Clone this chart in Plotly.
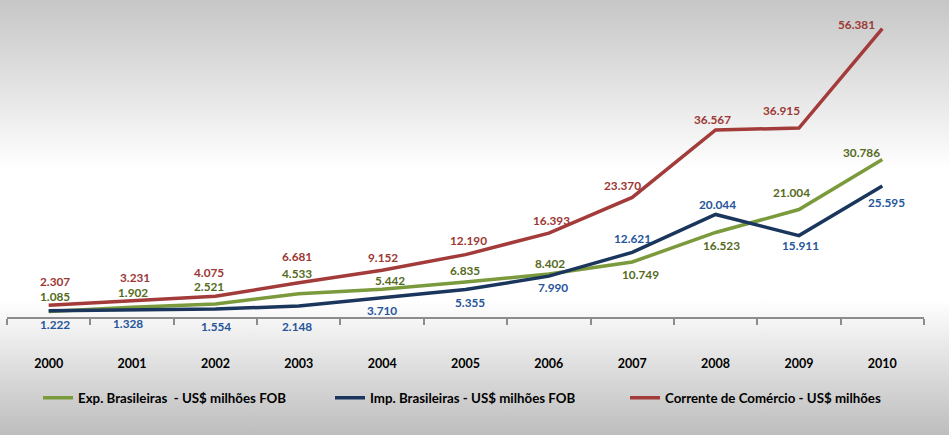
import base64
import plotly.graph_objects as go

years = ["2000", "2001", "2002", "2003", "2004", "2005", "2006", "2007", "2008", "2009", "2010"]
exp_vals = [1085, 1902, 2521, 4533, 5442, 6835, 8402, 10749, 16523, 21004, 30786]
imp_vals = [1222, 1328, 1554, 2148, 3710, 5355, 7990, 12621, 20044, 15911, 25595]
corr_vals = [2307, 3231, 4075, 6681, 9152, 12190, 16393, 23370, 36567, 36915, 56381]

exp_name = "Exp. Brasileiras \u00a0- US$ milhões FOB"
imp_name = "Imp. Brasileiras - US$ milhões FOB"
corr_name = "Corrente de Comércio - US$ milhões"

# label offsets (pixels, dx, dy down-positive)
corr_off = [(6, -24), (3, -23), (-6, -24), (-2, -26), (1, -13), (3, -14), (3, -13), (-10, -12), (-3, -10), (-17, -18), (-26, -4)]
exp_off = [(6, -15), (1, -15), (-6, -18), (-2, -20), (8, -9), (-1, -12), (1, -11), (8, 12), (6, 13), (-7, -17), (-21, -7)]
imp_off = [(6, 14), (-4, 13), (1, 17), (-2, 20), (0, 12), (4, 13), (4, 11), (0, -14), (2, -10), (2, 10), (4, 16)]

FONT = "Lato, 'Open Sans', Arial, sans-serif"
C_RED, C_RED_T = "#a23b3a", "#9c3834"
C_GRN, C_GRN_T = "#7a9a3c", "#556a1c"
C_BLU, C_BLU_T = "#1b365d", "#25559a"

W, H = 949, 435
ML, MR, MT, MB = 7, 25, 10, 118
PW, PH = W - ML - MR, H - MT - MB

def px_x(p):
    return (p - ML) / PW

def px_y(p):
    return (MT + PH - p) / PH

fig = go.Figure()
series = [(exp_name, exp_vals, C_GRN, "legend", 38),
          (imp_name, imp_vals, C_BLU, "legend2", 330),
          (corr_name, corr_vals, C_RED, "legend3", 625)]
legend_cfg = {}
for name, vals, col, lg, lx in series:
    fig.add_trace(go.Scatter(x=years, y=vals, mode="lines", name=name, legend=lg,
                             line=dict(color=col, width=3.5), hoverinfo="skip"))
    legend_cfg[lg] = dict(orientation="h", x=px_x(lx), xanchor="left", y=px_y(398), yanchor="middle",
                          bgcolor="rgba(0,0,0,0)", itemwidth=30,
                          font=dict(family=FONT, size=13.3, color="black", weight="bold"))

def fmt(v):
    return f"{v:,}".replace(",", ".")

ann = []
for vals, offs, col in [(corr_vals, corr_off, C_RED_T), (exp_vals, exp_off, C_GRN_T), (imp_vals, imp_off, C_BLU_T)]:
    for i, (v, (dx, dy)) in enumerate(zip(vals, offs)):
        ann.append(dict(x=i, y=v, xref="x", yref="y", text=fmt(v), showarrow=False, xshift=dx, yshift=-dy,
                        font=dict(family=FONT, size=11.8, color=col, weight="bold")))

svg = f'''<svg xmlns="http://www.w3.org/2000/svg" width="{W}" height="{H}" preserveAspectRatio="none">
<defs><linearGradient id="g" x1="0" y1="0" x2="0" y2="1">
<stop offset="0" stop-color="#c6c6c6"/>
<stop offset="{170/H:.3f}" stop-color="#ffffff"/>
<stop offset="{300/H:.3f}" stop-color="#ffffff"/>
<stop offset="1" stop-color="#bdbdbd"/>
</linearGradient></defs>
<rect x="0" y="0" width="{W}" height="{H}" fill="url(#g)"/></svg>'''
src = "data:image/svg+xml;base64," + base64.b64encode(svg.encode()).decode()

fig.update_layout(
    width=W, height=H,
    margin=dict(l=ML, r=MR, t=MT, b=MB, autoexpand=False),
    paper_bgcolor="white", plot_bgcolor="rgba(0,0,0,0)",
    font=dict(family=FONT, color="black"),
    showlegend=True,
    annotations=ann,
    images=[dict(source=src, xref="paper", yref="paper", x=-ML / PW, y=1 + MT / PH,
                 sizex=W / PW, sizey=H / PH, sizing="stretch", xanchor="left", yanchor="top", layer="below")],
    **legend_cfg,
)
fig.update_xaxes(type="category", range=[-0.5, 10.5], showgrid=False, zeroline=False,
                 showline=True, linecolor="#8c8c8c", linewidth=2,
                 ticks="outside", tickson="boundaries", ticklen=6, tickwidth=1.5, tickcolor="#8c8c8c",
                 ticklabelstandoff=34,
                 tickfont=dict(family=FONT, size=12.5, color="black", weight="bold"))
fig.update_yaxes(range=[0, 60000], visible=False, showgrid=False, zeroline=False)

fig.write_html("out.html", config={"displayModeBar": False},
               post_script="document.body.style.margin='0';")
